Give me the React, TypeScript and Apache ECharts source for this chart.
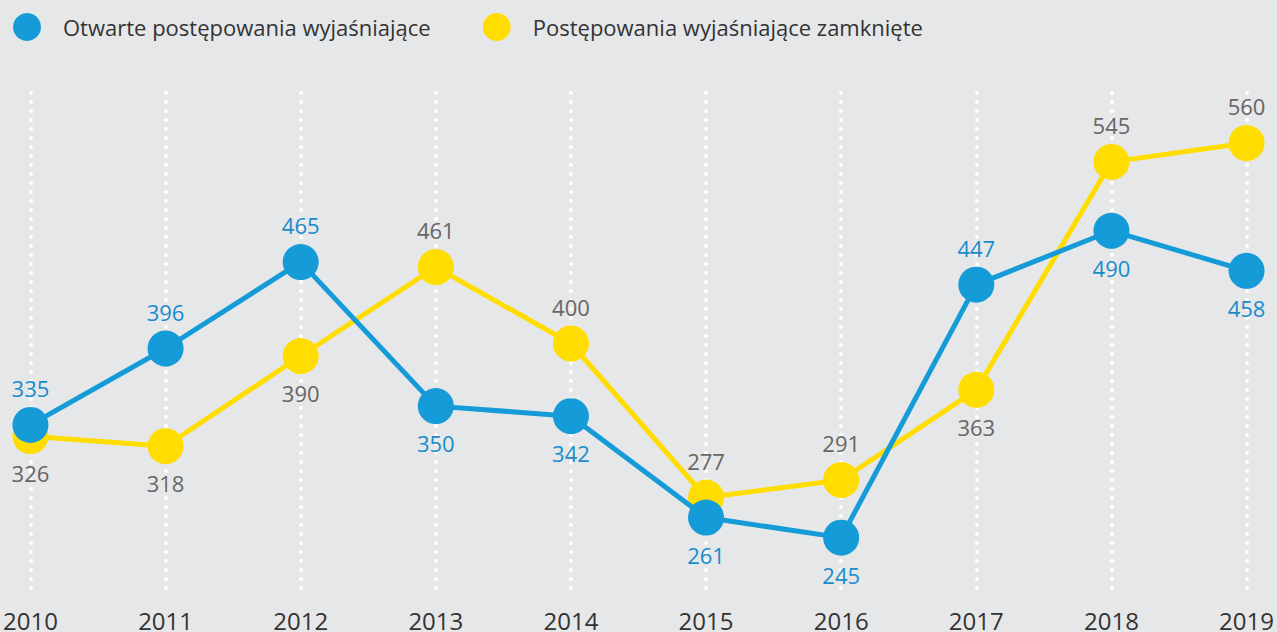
import React, { useEffect, useRef } from "react";
import * as echarts from "echarts";

const years = ["2010", "2011", "2012", "2013", "2014", "2015", "2016", "2017", "2018", "2019"];
const openValues = [335, 396, 465, 350, 342, 261, 245, 447, 490, 458];
const closedValues = [326, 318, 390, 461, 400, 277, 291, 363, 545, 560];
const openLabelPos = ["top", "top", "top", "bottom", "bottom", "bottom", "bottom", "top", "bottom", "bottom"];
const closedLabelPos = ["bottom", "bottom", "bottom", "top", "top", "top", "top", "bottom", "top", "top"];
const seriesNames = ["Otwarte postępowania wyjaśniające", "Postępowania wyjaśniające zamknięte"];

const BLUE = "#159bd7";
const YELLOW = "#ffdd00";
const FONT = "'Open Sans', 'Noto Sans', sans-serif";

export default function App() {
  const ref = useRef<HTMLDivElement>(null);
  useEffect(() => {
    if (!ref.current) return;
    const chart = echarts.init(ref.current, null, { renderer: "svg" });
    const mk = (vals: number[], pos: string[]) =>
      vals.map((v, i) => ({
        value: v,
        label: { position: pos[i] },
      }));
    chart.setOption({
      animation: false,
      backgroundColor: "#e6e7e8",
      textStyle: { fontFamily: FONT },
      legend: {
        left: 8,
        top: 8,
        icon: "circle",
        itemWidth: 28,
        itemHeight: 28,
        itemGap: 52,
        textStyle: { fontSize: 22, color: "#333333", fontFamily: FONT, padding: [0, 0, 0, 17] },
        data: seriesNames,
      },
      grid: { left: 30, right: 28, top: 93, bottom: 33, containLabel: false },
      xAxis: {
        type: "category",
        data: years,
        boundaryGap: false,
        axisLine: { show: false },
        axisTick: { show: false },
        axisLabel: { color: "#333333", fontSize: 24, margin: 14, fontFamily: FONT, showMinLabel: true, showMaxLabel: true, interval: 0 },
        splitLine: {
          show: true,
          lineStyle: { color: "#ffffff", width: 4, type: [0, 9], cap: "round" },
        },
      },
      yAxis: {
        type: "value",
        min: 200,
        max: 600,
        show: false,
        splitLine: { show: false },
      },
      series: [
        {
          name: seriesNames[0],
          type: "line",
          z: 3,
          data: mk(openValues, openLabelPos),
          color: BLUE,
          symbol: "circle",
          symbolSize: 36,
          lineStyle: { width: 5, color: BLUE },
          itemStyle: { color: BLUE },
          label: { show: true, color: "#1a8ccc", fontSize: 22, distance: 8, fontFamily: FONT },
        },
        {
          name: seriesNames[1],
          type: "line",
          z: 2,
          data: mk(closedValues, closedLabelPos),
          color: YELLOW,
          symbol: "circle",
          symbolSize: 36,
          lineStyle: { width: 5, color: YELLOW },
          itemStyle: { color: YELLOW },
          label: { show: true, color: "#666666", fontSize: 22, distance: 8, fontFamily: FONT },
        },
      ],
    });
    return () => chart.dispose();
  }, []);
  return <div ref={ref} style={{ position: "fixed", left: 0, top: 0, width: 1277, height: 632 }} />;
}
